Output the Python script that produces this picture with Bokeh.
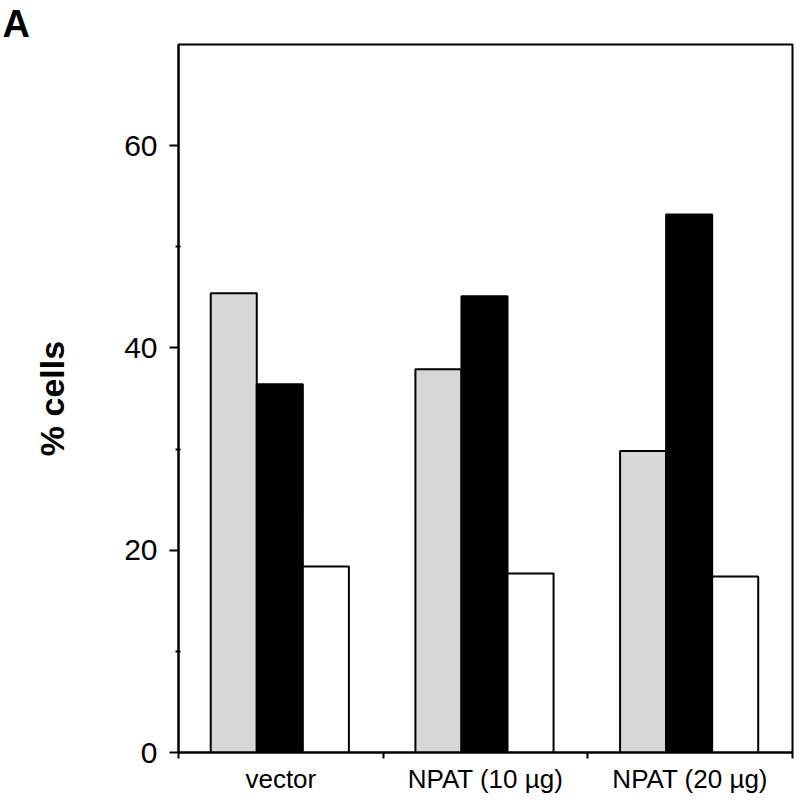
from bokeh.plotting import figure
from bokeh.models import ColumnDataSource, FixedTicker, Title, Range1d
from bokeh.transform import dodge
from bokeh.embed import file_html
from bokeh.resources import INLINE
import numpy as np

categories = ["vector", "NPAT (10 \u00b5g)", "NPAT (20 \u00b5g)"]
gray_vals = [45.4, 37.9, 29.8]
black_vals = [36.4, 45.1, 53.2]
white_vals = [18.4, 17.7, 17.4]
y_ticks = [0, 20, 40, 60]
y_minor = [10, 30, 50]

pos = (np.arange(len(categories)) + 0.5).tolist()
src = ColumnDataSource(dict(x=pos, gray=gray_vals, black=black_vals, white=white_vals))

p = figure(width=800, height=800, output_backend="svg", toolbar_location=None,
           x_range=Range1d(0, len(categories)), y_range=Range1d(0, 70),
           min_border_left=178, min_border_right=8, min_border_top=43, min_border_bottom=48)
p.background_fill_color = "white"
p.border_fill_color = "white"
p.outline_line_color = "black"
p.outline_line_width = 2
p.grid.visible = False

bw = 0.225
p.vbar(x=dodge("x", -0.23, range=p.x_range), top="gray", width=bw, source=src,
       fill_color="#d7d7d7", line_color="black", line_width=2)
p.vbar(x=dodge("x", -0.005, range=p.x_range), top="black", width=bw, source=src,
       fill_color="black", line_color="black", line_width=2)
p.vbar(x=dodge("x", 0.22, range=p.x_range), top="white", width=bw, source=src,
       fill_color="white", line_color="black", line_width=2)

# x axis
xa = p.xaxis[0]
xa.ticker = FixedTicker(ticks=pos, minor_ticks=list(range(len(categories) + 1)))
xa.major_label_overrides = {p_: c for p_, c in zip(pos, categories)}
xa.major_tick_out = 0
xa.major_tick_in = 0
xa.minor_tick_out = 6
xa.minor_tick_in = 0
xa.minor_tick_line_color = "black"
xa.minor_tick_line_width = 2
xa.axis_line_width = 2
xa.axis_line_color = "black"
xa.major_label_text_font = "Liberation Sans"
xa.major_label_text_font_size = "26px"
xa.major_label_text_color = "black"
xa.major_label_standoff = 5

# y axis
ya = p.yaxis[0]
ya.ticker = FixedTicker(ticks=y_ticks, minor_ticks=y_minor)
ya.major_tick_out = 9
ya.major_tick_in = 0
ya.minor_tick_out = 3
ya.minor_tick_in = 2
ya.major_tick_line_width = 2
ya.minor_tick_line_width = 2
ya.minor_tick_line_color = "black"
ya.axis_line_width = 2
ya.axis_line_color = "black"
ya.major_label_text_font = "Liberation Sans"
ya.major_label_text_font_size = "30px"
ya.major_label_text_color = "black"
ya.major_label_standoff = 12
ya.axis_label = "% cells"
ya.axis_label_text_font = "Liberation Sans"
ya.axis_label_text_font_style = "bold"
ya.axis_label_text_font_size = "34px"
ya.axis_label_text_color = "black"
ya.axis_label_standoff = 50

t = Title(text="A", align="left", offset=-176, standoff=0,
          text_font="Liberation Sans", text_font_style="bold",
          text_font_size="38px", text_color="black")
p.add_layout(t, "above")

open("out.html", "w").write(file_html(p, INLINE))
